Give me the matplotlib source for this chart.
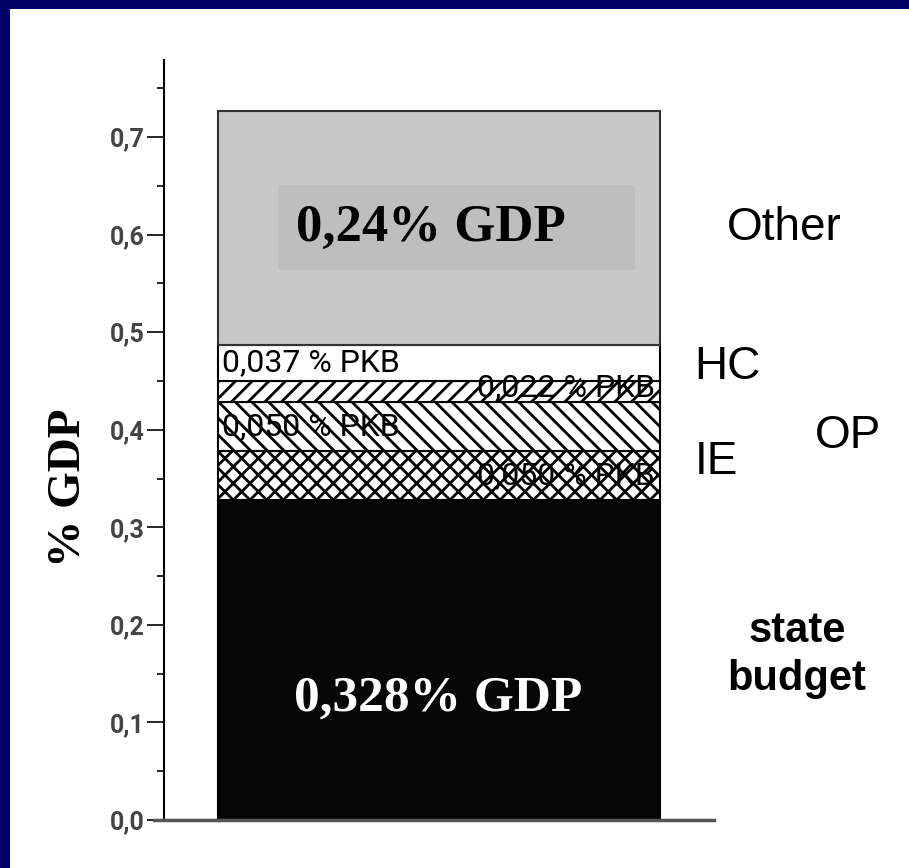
import numpy as np
import matplotlib
matplotlib.use("Agg")
import matplotlib.pyplot as plt
from matplotlib.patches import Rectangle

# stacked parts of the bar, bottom to top (% of GDP)
parts = ["state budget", "IE", "OP", "OP2", "HC", "Other"]
values = [0.328, 0.050, 0.050, 0.022, 0.037, 0.240]
seg_labels = ["0,328% GDP", "0,050 % PKB", "0,050 % PKB", "0,022 % PKB", "0,037 % PKB", "0,24% GDP"]
yticks = [0.0, 0.1, 0.2, 0.3, 0.4, 0.5, 0.6, 0.7]
ytick_labels = ["0,0", "0,1", "0,2", "0,3", "0,4", "0,5", "0,6", "0,7"]

fills = ["#060606", "white", "white", "white", "white", "#c8c8c8"]
hatches = [None, "xx", "\\\\", "//", None, None]

plt.rcParams['hatch.linewidth'] = 2.0
plt.rcParams['hatch.color'] = 'black'

W, H = 909, 868
fig = plt.figure(figsize=(W/100, H/100), dpi=100, facecolor="#000066")
fig.patches.append(Rectangle((10/W, 0), 1, 1 - 9/H, transform=fig.transFigure,
                             facecolor="white", edgecolor="none", zorder=-5))

ax = fig.add_axes([154/W, 1 - 820/H, 560/W, (820 - 60)/H])
ax.set_zorder(2)
ax.set_facecolor("white")
ax.set_xlim(0, 1)
ax.set_ylim(0, 0.779)

bottoms = np.concatenate([[0], np.cumsum(values)[:-1]])
for v, b, fc, h in zip(values, bottoms, fills, hatches):
    ax.bar(0.509, v, width=0.79, bottom=b, color=fc, hatch=h,
           edgecolor="#333333" if fc == "#c8c8c8" else "black", linewidth=1.5)

# labels inside the bar
narrow = ["Roboto", "DejaVu Sans"]
ax.text(0.507, bottoms[0] + values[0]/2 - 0.04, seg_labels[0], color="white",
        fontsize=37, fontweight="bold", family="Liberation Serif", ha="center", va="center")
ax.text(0.254, bottoms[5] + values[5]/2, seg_labels[5] + "    ", color="black",
        fontsize=38, fontweight="bold", family="Liberation Serif", ha="left", va="center",
        bbox=dict(boxstyle="square,pad=0.35", facecolor="#bebebe", edgecolor="none"))
ax.text(0.121, bottoms[4] + values[4]/2, seg_labels[4], fontsize=23, family=narrow,
        ha="left", va="center")
ax.text(0.895, bottoms[3] + values[3]/2 + 0.004, seg_labels[3], fontsize=23, family=narrow,
        ha="right", va="center")
ax.text(0.121, bottoms[2] + values[2]/2, seg_labels[2], fontsize=23, family=narrow,
        ha="left", va="center")
ax.text(0.895, bottoms[1] + values[1]/2, seg_labels[1], fontsize=23, family=narrow,
        ha="right", va="center")

# axes styling
for s in ["top", "right"]:
    ax.spines[s].set_visible(False)
ax.spines["left"].set_position(("axes", 10/560))
ax.spines["left"].set_linewidth(1.5)
ax.spines["bottom"].set_linewidth(2.5)
ax.spines["bottom"].set_color("#555555")
ax.set_xticks([])
ax.set_yticks(yticks)
ax.set_yticklabels(ytick_labels)
ax.set_yticks(np.arange(0.05, 0.78, 0.1), minor=True)
ax.tick_params(axis="y", which="major", length=12, width=1.2, pad=2,
               labelsize=18, labelcolor="#444444")
ax.tick_params(axis="y", which="minor", length=5, width=1.2)
for lab in ax.get_yticklabels():
    lab.set_family(narrow)
    lab.set_fontweight("bold")

# side labels
fig.text(69/W, 1 - 488/H, "% GDP", rotation=90, fontsize=34, fontweight="bold",
         family="Liberation Serif", ha="center", va="center")
side = dict(family="Liberation Sans", fontsize=33, ha="center", va="center")
fig.text(784/W, 1 - 228/H, "Other", **side)
fig.text(727/W, 1 - 367/H, "HC", **side)
fig.text(848/W, 1 - 436/H, "OP", **side)
fig.text(716/W, 1 - 462/H, "IE", **side)
fig.text(797/W, 1 - 655/H, "state\nbudget", family="Liberation Sans", fontsize=30,
         fontweight="bold", ha="center", va="center", linespacing=1.25)

fig.savefig("out.png", dpi=100, facecolor=fig.get_facecolor())
